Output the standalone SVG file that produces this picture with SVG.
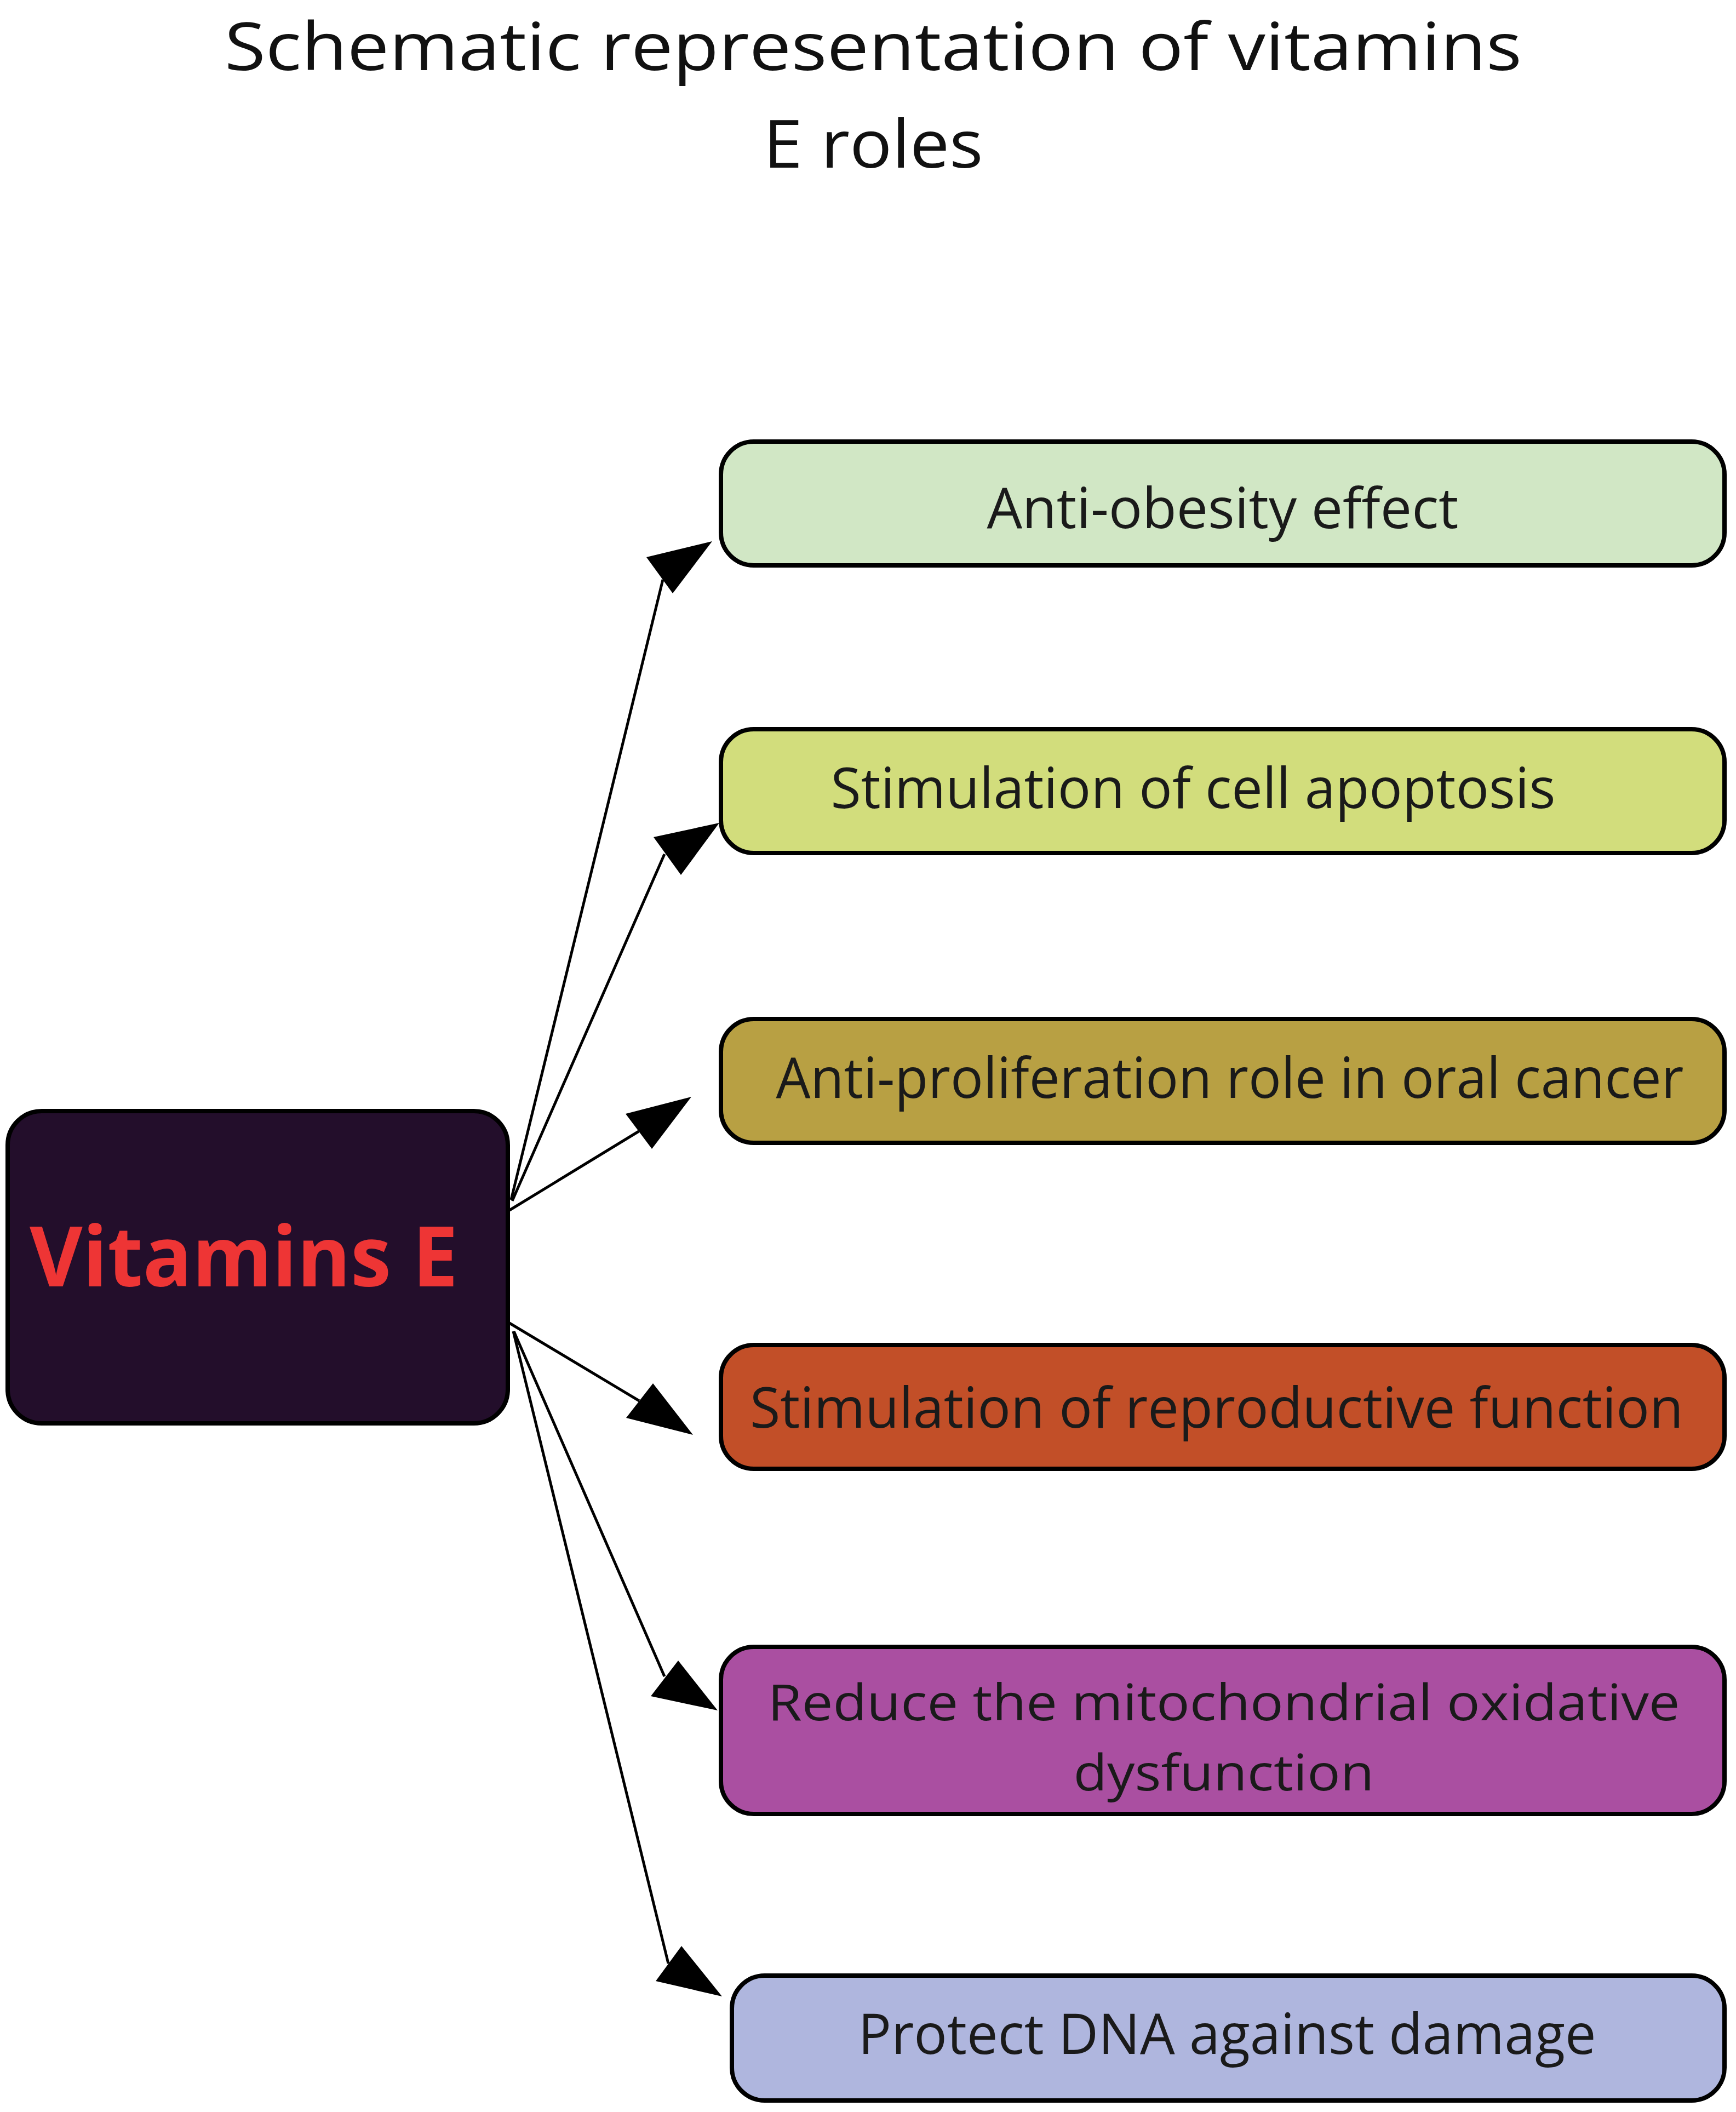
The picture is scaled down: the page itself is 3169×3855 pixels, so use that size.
<svg xmlns="http://www.w3.org/2000/svg" width="3169" height="3855" viewBox="0 0 3169 3855">
<style>
.title{font-family:"Open Sans","Noto Sans",sans-serif;font-size:120px;fill:#111;text-anchor:middle}
.lbl{font-family:"Open Sans","Noto Sans",sans-serif;font-size:102px;fill:#1a1a1a;text-anchor:middle}
.lbl2{font-size:92px}
.box{stroke:#000;stroke-width:8}
.conn line{stroke:#000;stroke-width:5}
.conn polygon{fill:#000}
</style>
<rect width="3169" height="3855" fill="#fff"/>
<g id="title">
<text class="title" x="1594" y="128" textLength="2368" lengthAdjust="spacingAndGlyphs">Schematic representation of  vitamins</text>
<text class="title" x="1594" y="306" textLength="401" lengthAdjust="spacingAndGlyphs">E roles</text>
</g>
<g id="connectors" class="conn">
<line x1="933" y1="2190" x2="1210" y2="1058"/>
<polygon points="1300,988 1180,1017 1228,1083"/>
<line x1="935" y1="2192" x2="1213" y2="1559"/>
<polygon points="1313,1502 1193,1528 1243,1597"/>
<line x1="930" y1="2209" x2="1166" y2="2065"/>
<polygon points="1262,2002 1142,2033 1190,2097"/>
<line x1="930" y1="2415" x2="1167" y2="2557"/>
<polygon points="1265,2619 1192,2525 1143,2588"/>
<line x1="938" y1="2430" x2="1213" y2="3060"/>
<polygon points="1310,3122 1238,3031 1188,3096"/>
<line x1="937" y1="2430" x2="1220" y2="3584"/>
<polygon points="1318,3644 1244,3552 1197,3616"/>
</g>
<g id="vitaminsE">
<rect class="box" x="14" y="2028" width="913" height="570" rx="62" fill="#230e2b" stroke-width="9"/>
<text x="445" y="2348" font-family="'Open Sans','Noto Sans',sans-serif" font-weight="bold" font-size="152" fill="#ee3535" text-anchor="middle" textLength="782" lengthAdjust="spacingAndGlyphs">Vitamins E</text>
</g>
<g id="anti-obesity">
<rect class="box" x="1316" y="806" width="1832" height="226" rx="60" fill="#d1e7c5"/>
<text class="lbl" x="2232" y="964" textLength="861" lengthAdjust="spacingAndGlyphs">Anti-obesity effect</text>
</g>
<g id="apoptosis">
<rect class="box" x="1316" y="1331" width="1832" height="226" rx="60" fill="#d2dd7c"/>
<text class="lbl" x="2178" y="1475" textLength="1323" lengthAdjust="spacingAndGlyphs">Stimulation of cell apoptosis</text>
</g>
<g id="anti-proliferation">
<rect class="box" x="1316" y="1860" width="1832" height="226" rx="60" fill="#b8a043"/>
<text class="lbl" x="2245" y="2004" textLength="1657" lengthAdjust="spacingAndGlyphs">Anti-proliferation role in oral cancer</text>
</g>
<g id="reproductive">
<rect class="box" x="1316" y="2455" width="1832" height="226" rx="60" fill="#c24f28"/>
<text class="lbl" x="2221" y="2606" textLength="1704" lengthAdjust="spacingAndGlyphs">Stimulation of reproductive function</text>
</g>
<g id="mitochondrial">
<rect class="box" x="1316" y="3006" width="1832" height="305" rx="60" fill="#aa4fa1"/>
<text class="lbl lbl2" x="2234" y="3140" textLength="1665" lengthAdjust="spacingAndGlyphs">Reduce the mitochondrial oxidative</text>
<text class="lbl lbl2" x="2234" y="3268" textLength="549" lengthAdjust="spacingAndGlyphs">dysfunction</text>
</g>
<g id="protect-dna">
<rect class="box" x="1336" y="3606" width="1812" height="228" rx="60" fill="#afb6de"/>
<text class="lbl" x="2240" y="3749" textLength="1347" lengthAdjust="spacingAndGlyphs">Protect DNA against damage</text>
</g>
</svg>
